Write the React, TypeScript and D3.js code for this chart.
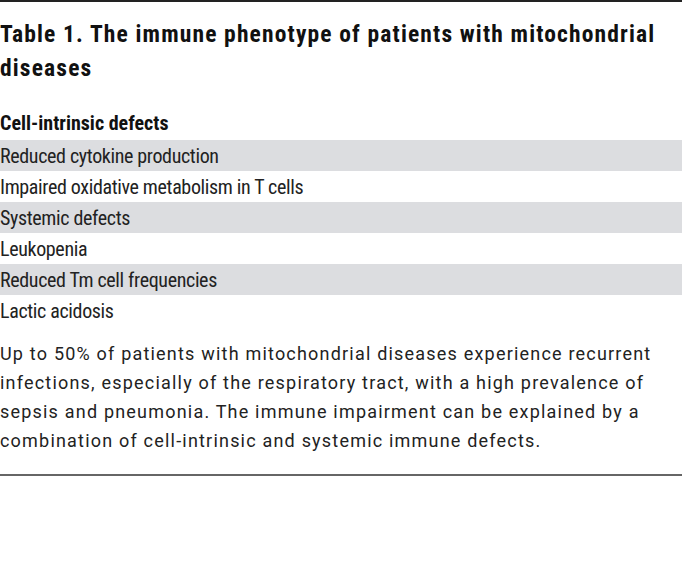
import React from "react";
import * as d3 from "d3";

const titleLines = ["Table 1. The immune phenotype of patients with mitochondrial", "diseases"];
const sectionHeader = "Cell-intrinsic defects";
const rows = [
  "Reduced cytokine production",
  "Impaired oxidative metabolism in T cells",
  "Systemic defects",
  "Leukopenia",
  "Reduced Tm cell frequencies",
  "Lactic acidosis",
];
const shaded = [true, false, true, false, true, false];
const footnote = [
  "Up to 50% of patients with mitochondrial diseases experience recurrent",
  "infections, especially of the respiratory tract, with a high prevalence of",
  "sepsis and pneumonia. The immune impairment can be explained by a",
  "combination of cell-intrinsic and systemic immune defects.",
];

const W = 682;
const H = 585;
const FONT = "'Roboto Condensed', 'Liberation Sans Narrow', 'DejaVu Sans Condensed', 'Open Sans', sans-serif";
const FONT2 = "Roboto, 'Open Sans', sans-serif";

export default function App() {
  const y = d3.scaleBand<number>().domain(d3.range(rows.length)).range([140, 140 + 31 * rows.length]).padding(0);
  return (
    <svg width={W} height={H} style={{ position: "absolute", left: 0, top: 0, background: "#fff" }} fontFamily={FONT}>
      <line x1={0} x2={W} y1={1} y2={1} stroke="#222" strokeWidth={2} />
      {titleLines.map((t, i) => (
        <text key={i} x={0} y={42 + i * 34} fontSize={23.5} fontWeight={700} fill="#111" letterSpacing={1.15}>{t}</text>
      ))}
      <text x={0} y={130} fontSize={20} fontWeight={700} fill="#111">{sectionHeader}</text>
      {rows.map((r, i) => (
        <g key={i}>
          {shaded[i] && <rect x={0} y={y(i)} width={W} height={y.bandwidth()} fill="#dcdde0" />}
          <text x={0} y={(y(i) as number) + 23} fontSize={20} fill="#222" letterSpacing={-0.35}>{r}</text>
        </g>
      ))}
      {footnote.map((t, i) => (
        <text key={i} x={0} y={360 + i * 29} fontSize={18} fill="#222" fontFamily={FONT2} letterSpacing={1.2}>{t}</text>
      ))}
      <line x1={0} x2={W} y1={475} y2={475} stroke="#666" strokeWidth={2} />
    </svg>
  );
}
